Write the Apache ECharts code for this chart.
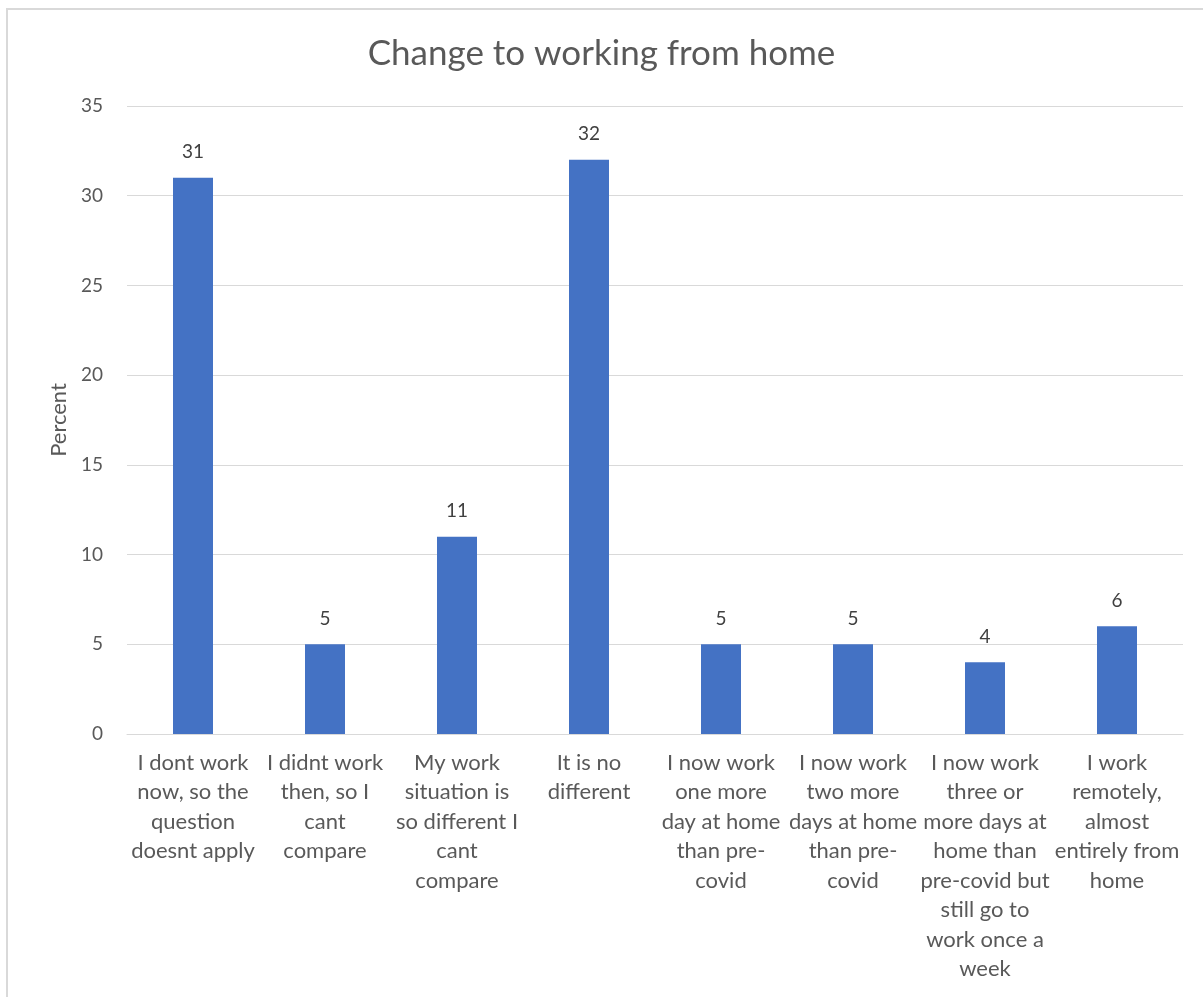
<!DOCTYPE html>
<html>
<head>
<meta charset="utf-8">
<script src="https://cdn.jsdelivr.net/npm/echarts@6/dist/echarts.min.js"></script>
<style>
html,body{margin:0;padding:0;background:#fff;}
#chart{width:1203px;height:997px;}
</style>
</head>
<body>
<div id="chart"></div>
<script>
const titleText = 'Change to working from home';
const yAxisName = 'Percent';
const categories = [
  'I dont work\nnow, so the\nquestion\ndoesnt apply',
  'I didnt work\nthen, so I\ncant\ncompare',
  'My work\nsituation is\nso different I\ncant\ncompare',
  'It is no\ndifferent',
  'I now work\none more\nday at home\nthan pre-\ncovid',
  'I now work\ntwo more\ndays at home\nthan pre-\ncovid',
  'I now work\nthree or\nmore days at\nhome than\npre-covid but\nstill go to\nwork once a\nweek',
  'I work\nremotely,\nalmost\nentirely from\nhome'
];
const values = [31, 5, 11, 32, 5, 5, 4, 6];
const yMin = 0, yMax = 35, yInterval = 5;

const FONT = 'Lato';
const TXT = '#595959';
const chart = echarts.init(document.getElementById('chart'));
chart.setOption({
  animation: false,
  backgroundColor: '#fff',
  title: {
    text: titleText,
    left: 'center',
    top: 31,
    textStyle: {fontFamily: FONT, fontSize: 35, fontWeight: 'normal', color: TXT}
  },
  graphic: [{
    type: 'rect', silent: true,
    shape: {x: 7, y: 9, width: 1400, height: 1200},
    style: {fill: 'none', stroke: '#d9d9d9', lineWidth: 2}
  }],
  grid: {left: 127, right: 20, top: 106, bottom: 263},
  xAxis: {
    type: 'category',
    data: categories,
    axisLine: {lineStyle: {color: '#d9d9d9', width: 1}},
    axisTick: {show: false},
    axisLabel: {interval: 0, margin: 14, color: TXT, fontFamily: FONT, fontSize: 22, lineHeight: 29.5, align: 'center'}
  },
  yAxis: {
    type: 'value',
    min: yMin, max: yMax, interval: yInterval,
    name: yAxisName,
    nameLocation: 'middle',
    nameGap: 56,
    nameRotate: 90,
    nameTextStyle: {color: TXT, fontFamily: FONT, fontSize: 22},
    axisLine: {show: false},
    axisTick: {show: false},
    splitLine: {lineStyle: {color: '#d9d9d9', width: 1}},
    axisLabel: {margin: 24, color: TXT, fontFamily: FONT, fontSize: 19}
  },
  series: [{
    type: 'bar',
    data: values,
    barWidth: 40,
    itemStyle: {color: '#4472c4'},
    label: {show: true, position: 'top', distance: 16, color: '#404040', fontFamily: FONT, fontSize: 19}
  }]
});
</script>
</body>
</html>
